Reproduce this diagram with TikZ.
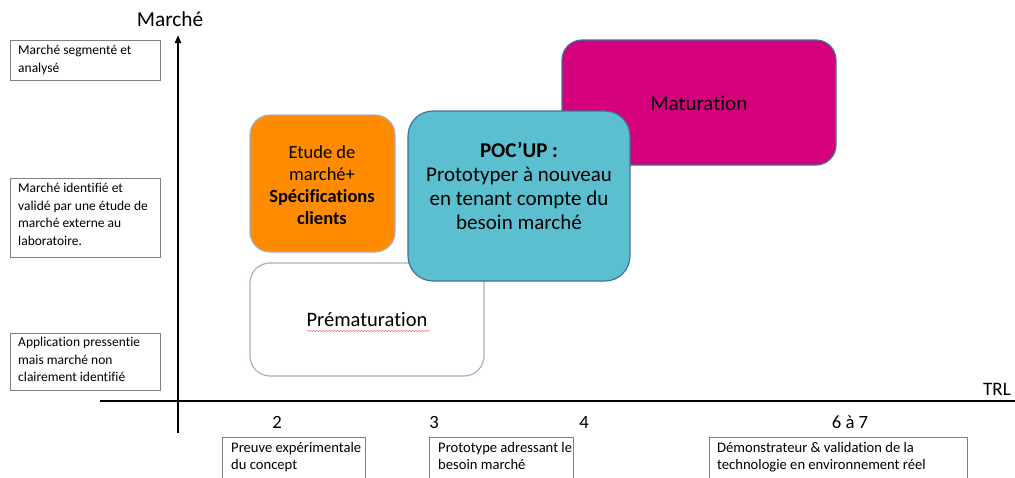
\documentclass[tikz,border=0pt]{standalone}
\usepackage{fontspec}
\setmainfont{Carlito}[Ligatures=NoCommon]
\usetikzlibrary{arrows.meta,decorations.pathmorphing}
\definecolor{orangeB}{HTML}{FF8C00}
\definecolor{magB}{HTML}{D5007D}
\definecolor{cyanB}{HTML}{5BBFCF}
\definecolor{cyanBorder}{HTML}{41719C}
\definecolor{softBorder}{HTML}{A5B0C8}
\definecolor{boxGray}{HTML}{808080}
\tikzset{
  phase/.style={rounded corners=20pt, line width=1.2pt, align=center},
  axis/.style={line width=1.8pt, black},
  num/.style={font=\fontsize{18.7}{20}\selectfont, anchor=center},
  lbox/.style={draw=boxGray, line width=0.8pt},
  ltext/.style={anchor=north west, align=left, inner sep=0pt, font=\fontsize{13.5}{17.6}\selectfont},
  btext/.style={anchor=north west, align=left, inner sep=0pt, font=\fontsize{14.6}{17.5}\selectfont}
}
\begin{document}
\begin{tikzpicture}[x=1pt,y=-1pt]
\useasboundingbox (0,0) rectangle (1015,477);
% axes
\coordinate (xs) at (100,401);
\coordinate (xe) at (1015,401);
\coordinate (ys) at (178,433);
\coordinate (ye) at (178,35);
\draw[axis] (xs) -- (xe);
\draw[axis,-{Triangle[length=8pt,width=6pt]}] (ys) -- (ye);
\node[font=\fontsize{21.3}{24}\selectfont] (marche) at (170,19) {Marché};
\node[font=\fontsize{19}{22}\selectfont] (trl) at (997,389) {TRL};
% left labels
\draw[lbox] (10,40) rectangle (160,80);
\node[ltext] (l1) at (18,45) {Marché segmenté et\\analysé};
\draw[lbox] (10,178) rectangle (160,257);
\node[ltext] (l2) at (18,183) {Marché identifié et\\validé par une étude de\\marché externe au\\laboratoire.};
\draw[lbox] (10,333) rectangle (160,390);
\node[ltext] (l3) at (18,337) {Application pressentie\\mais marché non\\clairement identifié};
% phases
\draw[phase, draw=softBorder, fill=white] (250,263) rectangle (484,376);
\node[font=\fontsize{20.5}{24}\selectfont] (prem) at (367,320) {Prématuration};
\draw[red!70, line width=0.4pt, decorate, decoration={snake, amplitude=0.6pt, segment length=3pt}] (307,331) -- (430,331);
\draw[phase, draw=softBorder, fill=orangeB] (250,115) rectangle (395,252);
\node[font=\fontsize{18.5}{22}\selectfont, align=center] (etude) at (322,185) {Etude de\\marché+\\\textbf{Spécifications}\\\textbf{clients}};
\draw[phase, draw=cyanBorder, fill=magB] (562,40) rectangle (836,165);
\node[font=\fontsize{21}{24}\selectfont] (mat) at (699,103) {Maturation};
\draw[phase, rounded corners=25pt, draw=cyanBorder, fill=cyanB] (408,111) rectangle (630,281);
\node[font=\fontsize{21}{24}\selectfont, align=center] (poc) at (519,186) {\textbf{POC’UP :}\\Prototyper à nouveau\\en tenant compte du\\besoin marché};
% TRL numbers
\node[num] (n2) at (277,422) {2};
\node[num] (n3) at (434,422) {3};
\node[num] (n4) at (584,422) {4};
\node[num] (n67) at (850,422) {6 à 7};
% bottom labels
\draw[lbox] (222,480) -- (222,437) -- (365,437) -- (365,480);
\node[btext] (b1) at (231,442) {Preuve expérimentale\\du concept};
\draw[lbox] (429,480) -- (429,437) -- (573,437) -- (573,480);
\node[btext] (b2) at (438,442) {Prototype adressant le\\besoin marché};
\draw[lbox] (709,480) -- (709,437) -- (967,437) -- (967,480);
\node[btext] (b3) at (717,442) {Démonstrateur \& validation de la\\technologie en environnement réel};
\end{tikzpicture}
\end{document}
